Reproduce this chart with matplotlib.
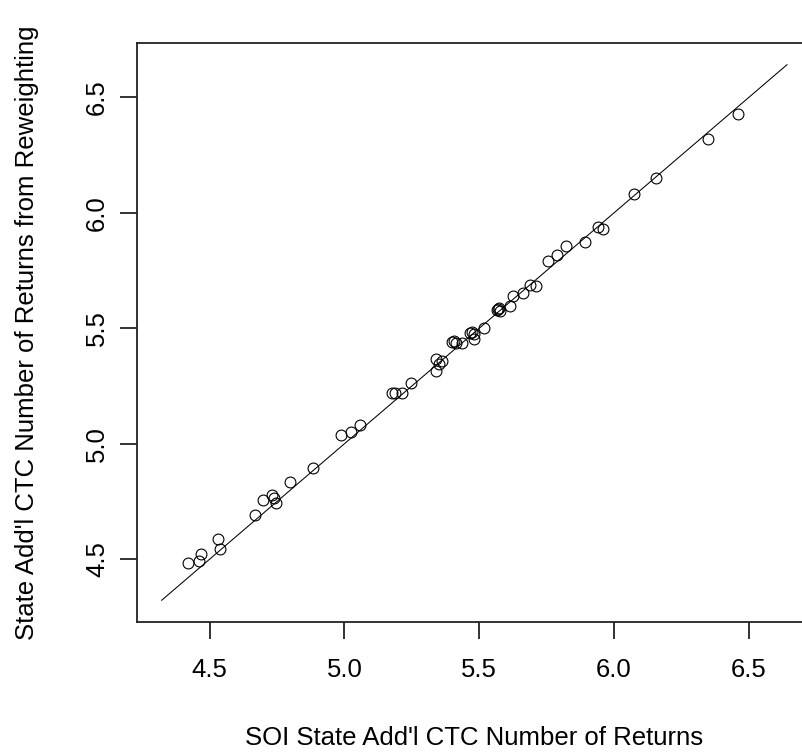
import numpy as np
import matplotlib
matplotlib.use("Agg")
import matplotlib.pyplot as plt

plt.rcParams['font.family'] = ['Liberation Sans', 'DejaVu Sans']

# SOI values (x) vs values from reweighting (y), log10 scale
soi_returns = [4.418, 4.459, 4.468, 4.531, 4.537, 4.669, 4.697, 4.731, 4.737, 4.746,
               4.797, 4.882, 4.988, 5.024, 5.059, 5.176, 5.189, 5.213, 5.248, 5.341,
               5.341, 5.362, 5.352, 5.407, 5.415, 5.438, 5.475, 5.481, 5.479, 5.465,
               5.519, 5.572, 5.578, 5.566, 5.570, 5.615, 5.627, 5.662, 5.687, 5.711,
               5.755, 5.790, 5.823, 5.893, 5.942, 5.960, 6.075, 6.155, 6.348, 6.461,
               5.400]
reweighted_returns = [4.485, 4.490, 4.522, 4.588, 4.545, 4.691, 4.757, 4.780, 4.767, 4.743,
                      4.835, 4.896, 5.036, 5.049, 5.081, 5.218, 5.218, 5.219, 5.263, 5.317,
                      5.367, 5.359, 5.345, 5.446, 5.436, 5.436, 5.486, 5.476, 5.453, 5.480,
                      5.503, 5.590, 5.573, 5.580, 5.585, 5.598, 5.638, 5.655, 5.688, 5.685,
                      5.792, 5.818, 5.857, 5.872, 5.940, 5.930, 6.084, 6.151, 6.320, 6.429,
                      5.440]

# 45-degree reference line range
ref_line = [4.322, 6.642]
ticks = [4.5, 5.0, 5.5, 6.0, 6.5]
tick_labels = ["4.5", "5.0", "5.5", "6.0", "6.5"]

fig = plt.figure(figsize=(8.03, 7.54), dpi=100)
ax = fig.add_axes([0.1702, 0.1755, 0.841, 0.7671])

ax.plot(ref_line, ref_line, color="black", lw=0.75)
ax.plot(soi_returns, reweighted_returns, linestyle="none", marker="o", ms=7.8,
        mfc="none", mec="black", mew=0.8)

# R style 4% padding around the data range
span = ref_line[1] - ref_line[0]
lims = (ref_line[0] - 0.04 * span, ref_line[1] + 0.04 * span)
ax.set_xlim(lims)
ax.set_ylim(lims)

ax.set_xticks(ticks)
ax.set_xticklabels(tick_labels)
ax.set_yticks(ticks)
ax.set_yticklabels(tick_labels, rotation=90, va="center")

for s in ax.spines.values():
    s.set_linewidth(1.3)
    s.set_color("#222222")
ax.tick_params(length=12, width=1.3, color="#222222", labelsize=18.5)
ax.tick_params(axis="x", pad=14)
ax.tick_params(axis="y", pad=8)

ax.set_xlabel("SOI State Add'l CTC Number of Returns", fontsize=18.5, labelpad=32)
ax.set_ylabel("State Add'l CTC Number of Returns from Reweighting", fontsize=18.5, labelpad=33)

plt.savefig("out.png", dpi=100)
